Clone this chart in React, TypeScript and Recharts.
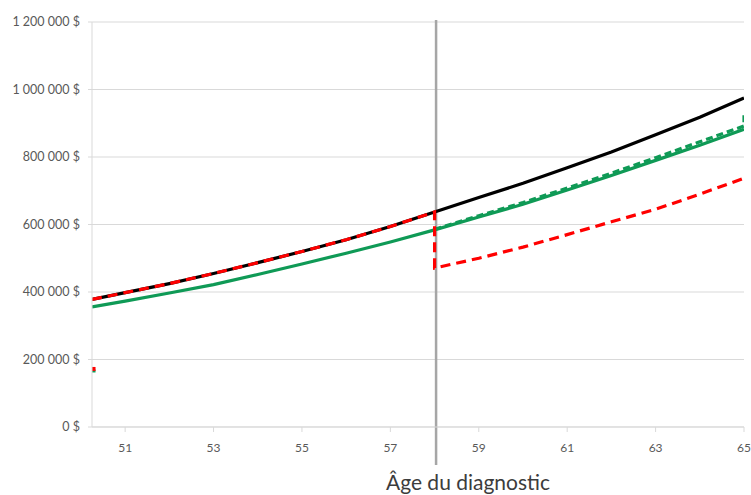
import React from "react";
import {
  LineChart,
  Line,
  XAxis,
  YAxis,
  CartesianGrid,
  ReferenceLine,
} from "recharts";

// ages (years) and values
const allAges = [50.25, 51, 52, 53, 54, 55, 56, 57, 58, 59, 60, 61, 62, 63, 64, 65];
const earlyAges = [50.25, 51, 52, 53, 54, 55, 56, 57, 58];
const lateAges = [58, 59, 60, 61, 62, 63, 64, 65];

const noDiagnosis = [378000, 398000, 425000, 455000, 487000, 520000, 555000, 594000, 637000, 680000, 722000, 768000, 815000, 866000, 918000, 975000];
const greenSolid = [356000, 373000, 397000, 422000, 452000, 483000, 515000, 548000, 584000, 622000, 660000, 702000, 745000, 790000, 835000, 882000];
const greenDashedLate = [586000, 626000, 665000, 708000, 752000, 798000, 845000, 892000];
const greenDashedEnd = 933000;
const redLate = [471000, 500000, 533000, 570000, 608000, 645000, 690000, 737000];

const stubAges = [50.25, 50.33];
const redStub = [172000, 172000];
const greenStub = [166000, 166000];

const xTicks = [51, 53, 55, 57, 59, 61, 63, 65];
const yTicks = [0, 200000, 400000, 600000, 800000, 1000000, 1200000];
const diagnosisAge = 58;
const axisTitle = "Âge du diagnostic";

const zip = (xs: number[], ys: number[]) => xs.map((age, i) => ({ age, value: ys[i] }));

const blackData = zip(allAges, noDiagnosis);
const greenData = zip(allAges, greenSolid);
const redData = [
  ...zip(earlyAges, noDiagnosis.slice(0, earlyAges.length)),
  ...zip(lateAges, redLate),
];
const greenDashedData = [...zip(lateAges, greenDashedLate), { age: 65, value: greenDashedEnd }];
const redStubData = zip(stubAges, redStub);
const greenStubData = zip(stubAges, greenStub);

const GREEN = "#0f9a56";
const RED = "#ff0000";
const GRID = "#d9d9d9";
const FONT = "Lato, 'Open Sans', sans-serif";

const money = (v: number) => `${String(v).replace(/\B(?=(\d{3})+(?!\d))/g, " ")} $`;

export default function App() {
  return (
    <div style={{ position: "absolute", left: 0, top: 0, width: 751, height: 495, background: "#fff" }}>
      <LineChart
        width={751}
        height={495}
        margin={{ top: 22, right: 7, bottom: 0, left: 0 }}
      >
        <CartesianGrid vertical={false} stroke={GRID} />
        <XAxis
          dataKey="age"
          type="number"
          domain={[50.25, 65]}
          ticks={xTicks}
          height={68}
          allowDataOverflow
          stroke={GRID}
          tickSize={5}
          tickMargin={11}
          tick={{ fill: "#595959", fontSize: 12, fontFamily: FONT }}
          label={{
            content: ({ viewBox }: any) => (
              <text
                x={viewBox.x + 376}
                y={viewBox.y + 63}
                textAnchor="middle"
                fontSize={21}
                fontFamily={FONT}
                fill="#3c3c3c"
              >
                {axisTitle}
              </text>
            ),
          }}
        />
        <YAxis
          type="number"
          domain={[0, 1200000]}
          ticks={yTicks}
          width={92}
          stroke={GRID}
          tickSize={4}
          tickMargin={8}
          tick={{ fill: "#595959", fontSize: 12.5, fontFamily: FONT }}
          tickFormatter={money}
        />
        <ReferenceLine
          x={diagnosisAge}
          stroke="#a6a6a6"
          strokeWidth={2.5}
          shape={(p: any) => (
            <line
              x1={p.x1 + 1.5}
              y1={Math.min(p.y1, p.y2) - 2}
              x2={p.x2 + 1.5}
              y2={Math.max(p.y1, p.y2) + 38}
              stroke="#a6a6a6"
              strokeWidth={2.5}
            />
          )}
        />
        <Line data={greenData} dataKey="value" stroke={GREEN} strokeWidth={3.2} dot={false} isAnimationActive={false} />
        <Line data={greenDashedData} dataKey="value" stroke={GREEN} strokeWidth={3.2} strokeDasharray="7 4" dot={false} isAnimationActive={false} />
        <Line data={blackData} dataKey="value" stroke="#000" strokeWidth={3.2} dot={false} isAnimationActive={false} />
        <Line data={redData} dataKey="value" stroke={RED} strokeWidth={3.2} strokeDasharray="10 6" dot={false} isAnimationActive={false} />
        <Line data={greenStubData} dataKey="value" stroke={GREEN} strokeWidth={3} dot={false} isAnimationActive={false} />
        <Line data={redStubData} dataKey="value" stroke={RED} strokeWidth={4} dot={false} isAnimationActive={false} />
      </LineChart>
    </div>
  );
}
